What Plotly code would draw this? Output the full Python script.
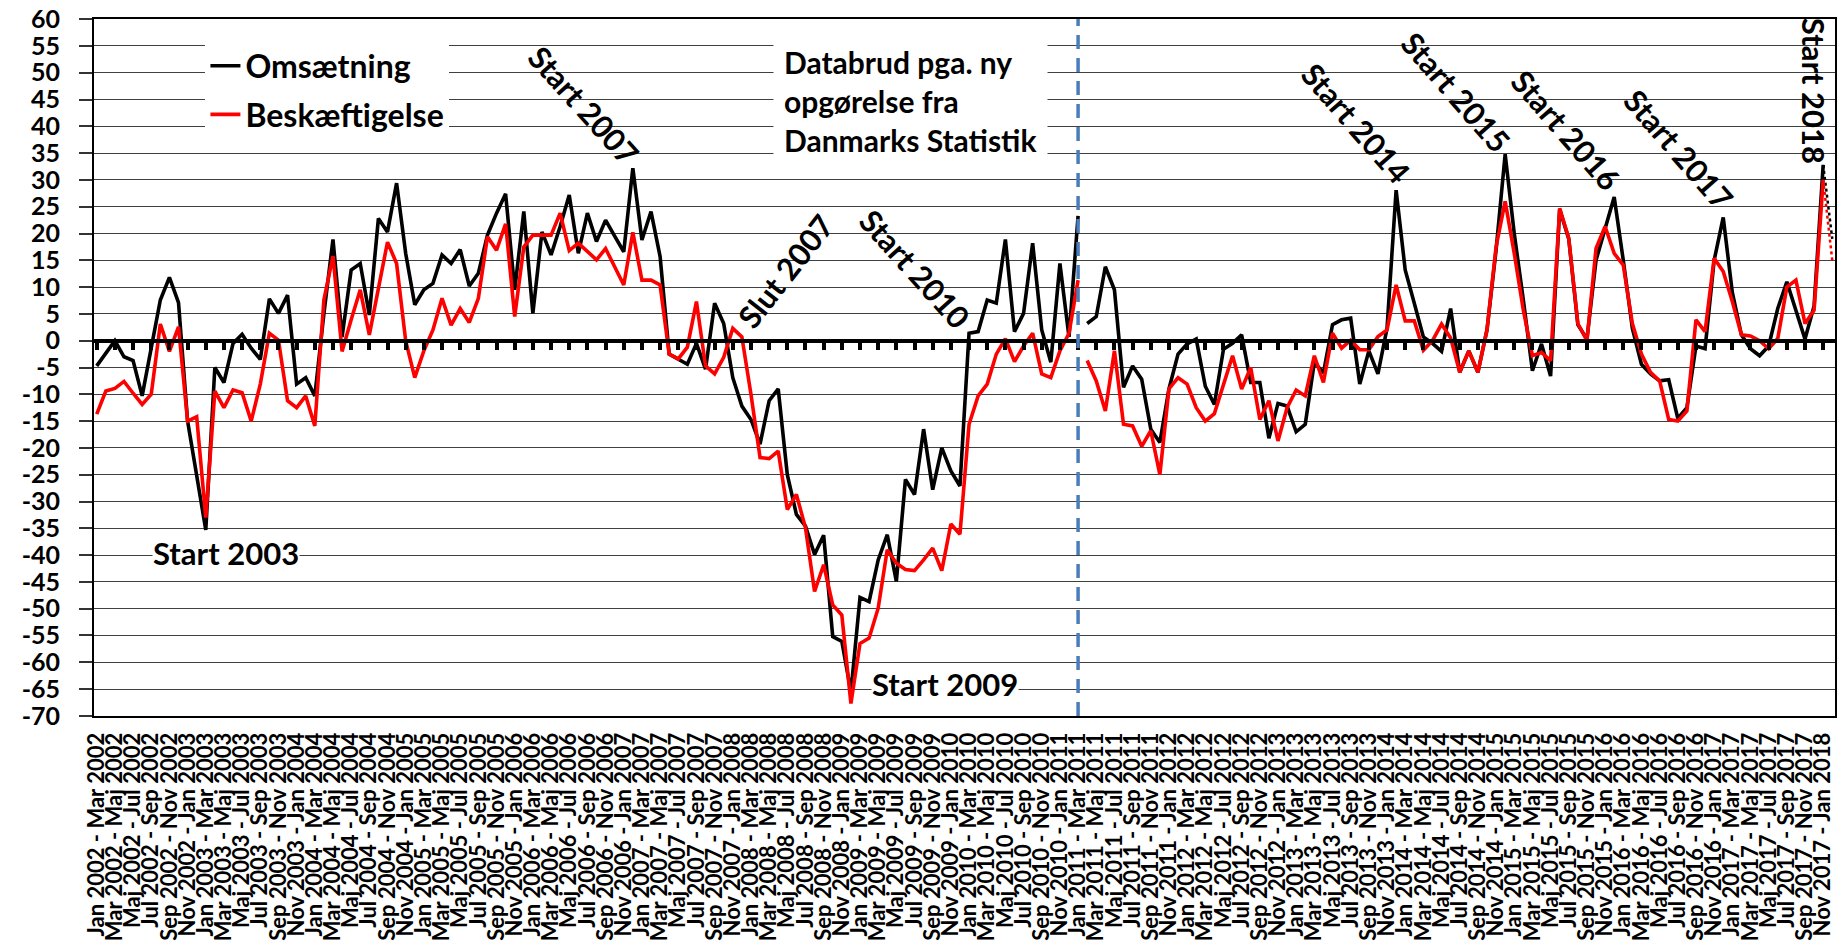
import plotly.graph_objects as go

# ---------------- data ----------------
MONTHS = ["Jan", "Feb", "Mar", "Apr", "Maj", "Jun", "Jul", "Aug", "Sep", "Okt", "Nov", "Dec"]
FIRST_YEAR = 2002
N_PERIODS = 192  # Jan 2002 - Mar 2002 ... Dec 2017 - Feb 2018


def period_label(i):
    y1, m1 = FIRST_YEAR + i // 12, i % 12
    j = i + 2
    y2, m2 = FIRST_YEAR + j // 12, j % 12
    return f"{MONTHS[m1]} {y1} - {MONTHS[m2]} {y2}"


CATS = [period_label(i) for i in range(N_PERIODS)]
BREAK_IDX = 108  # Jan 2011 - Mar 2011 (databrud)

OMSAETNING = [
    -4.7, -2.3, 0, -3, -3.7, -10.3, -1, 7.6, 11.8, 7.1, -15, -25,
    -35.3, -5, -7.8, -0.5, 1.2, -1.4, -3.5, 7.8, 5.1, 8.5, -8.1, -6.9,
    -10.3, 5, 18.9, 0.7, 13.2, 14.4, 4.8, 22.8, 20.3, 29.4, 16.3, 6.7,
    9.5, 10.7, 16, 14.4, 17, 10.2, 12.6, 19.7, 23.8, 27.4, 9.5, 24.1,
    5.1, 20.3, 16, 21.3, 27.2, 16.3, 23.8, 18.5, 22.5, 19.5, 16.6, 32.2,
    18.8, 24.1, 15.7, -2.5, -3.4, -4.4, -0.5, -5.3, 7, 3.2, -6.9, -12.2,
    -14.7, -19.3, -11.2, -9, -25, -32.4, -34.6, -39.9, -36.3, -55.2, -56.1, -65.5,
    -47.9, -48.7, -40.9, -36.2, -44.9, -25.9, -28.7, -16.5, -27.8, -20, -24.3, -27.1,
    1.4, 1.7, 7.6, 7, 18.9, 1.7, 5.1, 18.2, 2, -4, 14.4, 0.7,
    23.3, 3.2, 4.5, 13.8, 9.5, -8.7, -4.7, -7.2, -16.5, -19, -9, -2.5,
    -0.6, 0.3, -8.5, -11.9, -1.6, -0.5, 1.1, -7.8, -7.8, -18.2, -11.7, -12.2,
    -17, -15.6, -4, -6, 3, 3.9, 4.2, -8.1, -1.9, -6.2, 2.3, 28.1,
    13.2, 7, 0.7, -0.5, -2, 6, -5.9, -1.9, -5.9, 2, 16.9, 34.8,
    20, 7.6, -5.6, -0.6, -6.6, 24.5, 19, 3, 0.3, 15, 21, 26.8,
    15, 2.3, -4.4, -6.2, -7.5, -7.3, -14.5, -12.5, -1, -1.5, 15, 23,
    9, 1.1, -1.5, -2.8, -1, 6, 11, 5.7, 0.3, 6.5, 32.8, 19,
]

BESKAEFTIGELSE = [
    -13.7, -9.4, -8.9, -7.6, -9.8, -11.9, -10, 3.1, -2, 2.6, -15, -14.2,
    -33, -9.4, -12.5, -9.2, -9.7, -15, -8.1, 1.4, 0.1, -11.2, -12.5, -10.3,
    -15.9, 7.6, 15.8, -2, 3.9, 9.5, 1.1, 9.5, 18.4, 14.4, 0, -6.9,
    -1.9, 2, 7.9, 2.9, 6, 3.4, 7.9, 19.4, 16.9, 21.8, 4.5, 17.5,
    19.7, 19.7, 19.7, 23.8, 16.8, 18.2, 16.6, 15.1, 17.2, 13.8, 10.4, 20.2,
    11.3, 11.3, 10.4, -2.5, -3.4, -1.2, 7.3, -4.7, -6.2, -3.1, 2.3, 0.7,
    -10, -21.8, -22, -20.6, -31.5, -28.7, -34.9, -46.8, -41.8, -49.3, -51.2, -67.7,
    -56.5, -55.5, -49.9, -39, -41.5, -42.7, -42.9, -40.9, -38.7, -42.9, -34.2, -36.1,
    -15.6, -10.3, -8.1, -2.5, 0.4, -3.9, -1, 1.4, -6.2, -6.9, -1.9, 1.4,
    11.3, -3.7, -7.5, -13.1, -1.9, -15.6, -15.9, -19.7, -16.8, -25, -9, -6.9,
    -8.1, -12.5, -15, -13.6, -8.1, -2.8, -9, -5, -14.7, -11.2, -18.7, -12.5,
    -9.2, -10.3, -2.8, -7.8, 1.4, -1.4, 0.1, -1.7, -1.7, 0.8, 2, 10.4,
    3.7, 3.7, -1.8, 0, 3.1, 0.5, -5.9, -1.9, -5.9, 2, 17.5, 26,
    16.3, 5.7, -2.8, -2.2, -3.7, 24.7, 19.1, 3.2, 0, 17.2, 21.3, 16.3,
    14.1, 3.2, -2.5, -5.9, -7.5, -14.7, -15, -13.1, 3.9, 1.7, 15.4, 12.9,
    7.3, 1.1, 0.9, 0, -1.5, 0.4, 10, 11.3, 3.2, 5.7, 30, 15,
]

Y_TICKS = list(range(-70, 61, 5))
X_TICKS = CATS[0:191:2]

ANNOTATIONS = [
    # text, x (category index), y, angle, white box
    ("Start 2003", 14.2, -39.6, 0, True),
    ("Start 2009", 93.4, -64.0, 0, True),
    ("Start 2007", 53.6, 44.0, 48, False),
    ("Slut 2007", 75.8, 13.0, -52, False),
    ("Start 2010", 90.1, 13.4, 48, False),
    ("Start 2014", 138.6, 40.6, 49, False),
    ("Start 2015", 149.6, 46.4, 49, False),
    ("Start 2016", 161.7, 39.3, 49, False),
    ("Start 2017", 174.1, 35.8, 49, False),
    ("Start 2018", 189.0, 46.6, 90, False),
]
NOTE_TEXT = "Databrud pga. ny<br>opgørelse fra<br>Danmarks Statistik"

# ---------------- figure ----------------
FONT = "Lato"
BLACK = "#000000"
RED = "#FF0000"
BLUE = "#4A7EBB"
LW = 3.6

fig = go.Figure()

last = N_PERIODS - 1
segments = [(0, BREAK_IDX), (BREAK_IDX + 1, last - 1)]
for name, vals, col in [("Omsætning", OMSAETNING, BLACK), ("Beskæftigelse", BESKAEFTIGELSE, RED)]:
    for k, (a, b) in enumerate(segments):
        fig.add_trace(go.Scatter(
            x=CATS[a:b + 1], y=vals[a:b + 1], mode="lines", name=name,
            line=dict(color=col, width=LW), legendgroup=name,
            showlegend=(k == 0),
        ))
    fig.add_trace(go.Scatter(
        x=CATS[last - 1:], y=vals[last - 1:], mode="lines", name=name,
        line=dict(color=col, width=2.5, dash="dot"), legendgroup=name,
        showlegend=False,
    ))

# helper trace for the zero-line category axis with tick marks
fig.add_trace(go.Scatter(
    x=CATS, y=[0] * len(CATS), xaxis="x2", mode="markers",
    marker=dict(opacity=0, size=1), showlegend=False, hoverinfo="skip",
))

axis_font = dict(family=FONT, size=22, color="black", weight="bold")

fig.update_layout(
    width=1840, height=947,
    margin=dict(l=94, r=3, t=19, b=231),
    paper_bgcolor="white", plot_bgcolor="white",
    showlegend=True,
    legend=dict(
        x=0.064, y=0.972, xanchor="left", yanchor="top",
        bgcolor="white", borderwidth=0,
        font=dict(family=FONT, size=32, color="black", weight="bold"),
        tracegroupgap=4, itemwidth=30,
    ),
    xaxis=dict(
        type="category", categoryorder="array", categoryarray=CATS,
        range=[-0.3, N_PERIODS - 0.7],
        tickmode="array", tickvals=X_TICKS, ticktext=X_TICKS,
        tickangle=-90, tickfont=axis_font, ticks="",
        showline=True, linecolor="black", linewidth=2, mirror=True,
        showgrid=False, zeroline=False, ticklabelstandoff=6,
    ),
    xaxis2=dict(
        type="category", categoryorder="array", categoryarray=CATS,
        range=[-0.3, N_PERIODS - 0.7], overlaying="x", anchor="free",
        position=70.02 / 130.04, side="bottom",
        tickmode="array", tickvals=X_TICKS, showticklabels=False,
        ticks="outside", ticklen=7, tickwidth=3.5, tickcolor="black",
        showline=True, linecolor="black", linewidth=4,
        showgrid=False, zeroline=False,
    ),
    yaxis=dict(
        range=[-70.02, 60.02], tickmode="array", tickvals=Y_TICKS,
        ticktext=[str(v) for v in Y_TICKS],
        tickfont=dict(family=FONT, size=25, color="black", weight="bold"),
        ticks="outside", ticklen=13, tickwidth=1.5, tickcolor="#333333",
        showline=True, linecolor="black", linewidth=2, mirror=True,
        showgrid=True, gridcolor="#404040", gridwidth=1.3,
        zeroline=False, ticklabelstandoff=14,
    ),
)

fig.add_shape(
    type="line", xref="x", yref="y",
    x0=CATS[BREAK_IDX], x1=CATS[BREAK_IDX], y0=-70, y1=60,
    line=dict(color=BLUE, width=3.5, dash="14px,9px"),
)

ann_font = dict(family=FONT, size=31, color="black", weight="bold")
for text, x, y, ang, box in ANNOTATIONS:
    fig.add_annotation(
        text=text, x=x, y=y, xref="x", yref="y", showarrow=False,
        textangle=ang, font=ann_font,
        bgcolor="white" if box else "rgba(0,0,0,0)", borderpad=0,
    )

fig.add_annotation(
    text=NOTE_TEXT, x=89.6, y=44.8, xref="x", yref="y", showarrow=False,
    align="left", font=dict(family=FONT, size=30, color="black", weight="bold"),
    bgcolor="white", borderpad=10,
)

fig.write_html(
    "out.html",
    config={"displayModeBar": False},
    post_script="document.body.style.margin='0';",
)
